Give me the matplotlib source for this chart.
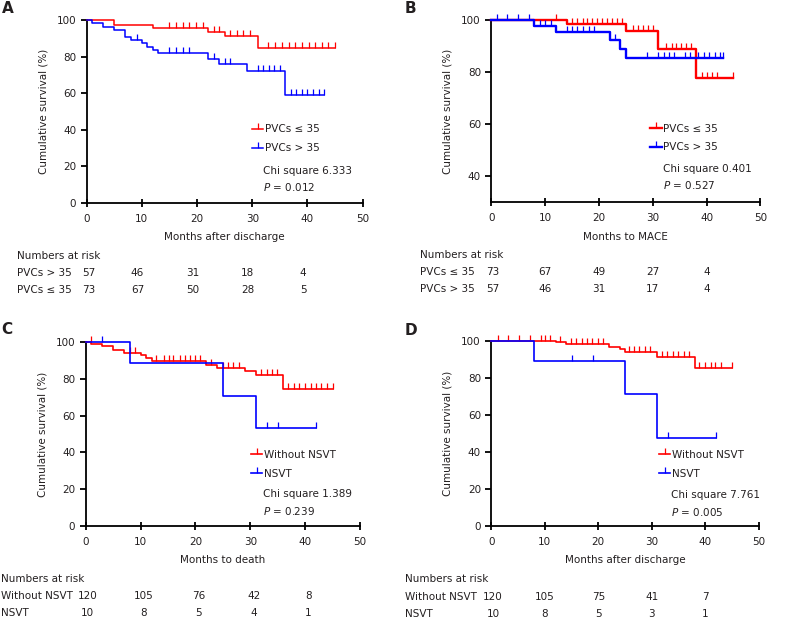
import numpy as np
import matplotlib.pyplot as plt
from matplotlib.lines import Line2D

plt.rcParams['font.family'] = 'DejaVu Sans'
plt.rcParams['mathtext.fontset'] = 'dejavusans'

RED = '#ff0000'
BLUE = '#0000ff'
TXT = '#231f20'
FS = 7.5

# ---- panel A: months after discharge, PVC burden ----
a_red_t = [0, 5, 12, 22, 25, 31, 45]
a_red_s = [100, 97.4, 95.8, 93.8, 91.6, 84.7, 84.7]
a_red_c = [15, 16.2, 17.4, 18.6, 19.8, 21, 23, 24, 26, 27.2, 28.4, 29.6, 32.9, 34.1, 35.3,
           36.6, 37.8, 39, 40.2, 41.4, 42.6, 43.8, 45]
a_blue_t = [0, 1, 3, 5, 7, 8, 10, 11, 12, 13, 22, 24, 29, 36, 43]
a_blue_s = [100, 98.4, 96.5, 94.5, 91.1, 89.2, 87.4, 85.4, 83.6, 81.9, 79.0, 76.1, 72.5, 59.3, 59.3]
a_blue_c = [9.1, 15, 16.2, 17.4, 18.6, 23, 25, 26, 31, 32, 33, 34, 35, 37, 38, 39, 40, 41, 42, 43]
a_risk_labels = ['PVCs > 35', 'PVCs \u2264 35']
a_risk = [[57, 46, 31, 18, 4], [73, 67, 50, 28, 5]]

# ---- panel B: months to MACE ----
b_red_t = [0, 14, 25, 31, 38, 45]
b_red_s = [100, 98.6, 95.8, 88.8, 77.7, 77.7]
b_red_c = [12, 15, 16, 17, 17.8, 18.7, 19.6, 20.6, 21.5, 22.4, 23.4, 24.3, 26.3, 27.2, 28.1, 29.1,
           30, 32.5, 33.5, 34.4, 35.3, 36.2, 37.2, 39.2, 40.1, 41, 41.9, 45]
b_blue_t = [0, 8, 12, 22, 24, 25, 43]
b_blue_s = [100, 97.8, 95.6, 92.6, 89, 85.4, 85.4]
b_blue_c = [1, 3, 5, 7, 9, 10, 11, 14, 15, 16, 17, 18.1, 19, 23, 29, 31, 32, 33, 34, 36, 37,
            38.4, 39.5, 40.4, 41.5, 42.5, 43]
b_risk_labels = ['PVCs \u2264 35', 'PVCs > 35']
b_risk = [[73, 67, 49, 27, 4], [57, 46, 31, 17, 4]]

# ---- panel C: months to death, NSVT ----
c_red_t = [0, 1, 3, 5, 7, 10, 11, 12, 22, 24, 29, 31, 36, 45]
c_red_s = [100, 99.1, 98.2, 95.8, 94, 92.9, 91.3, 90, 87.6, 85.8, 84.2, 82.2, 74.5, 74.5]
c_red_c = [0.9, 8, 9, 12.9, 14.2, 15.1, 16, 17.2, 18.1, 19, 19.9, 20.8, 22.8, 25, 26, 26.9, 28,
           32, 33, 33.9, 34.9, 36.9, 38, 38.9, 40, 41, 41.9, 42.9, 43.9, 45]
c_blue_t = [0, 8, 25, 31, 42]
c_blue_s = [100, 88.9, 70.9, 53.3, 53.3]
c_blue_c = [3, 33, 35, 42]
c_risk_labels = ['Without NSVT', 'NSVT']
c_risk = [[120, 105, 76, 42, 8], [10, 8, 5, 4, 1]]

# ---- panel D: months after discharge, NSVT ----
d_red_t = [0, 12, 14, 22, 24, 25, 31, 38, 45]
d_red_s = [100, 99.1, 98.2, 96.8, 95.3, 93.7, 91.4, 85, 85]
d_red_c = [1.2, 3.1, 5.1, 7.2, 9.2, 10.1, 11, 12.9, 14.9, 15.9, 17, 17.9, 18.8, 20, 20.9, 25.7,
           26.6, 27.7, 28.7, 29.7, 31.9, 32.9, 34, 34.9, 36, 36.9, 38.9, 39.9, 41, 41.9, 43, 45]
d_blue_t = [0, 8, 25, 31, 42]
d_blue_s = [100, 88.8, 71.2, 47.4, 47.4]
d_blue_c = [15, 19, 33, 42]
d_risk_labels = ['Without NSVT', 'NSVT']
d_risk = [[120, 105, 75, 41, 7], [10, 8, 5, 3, 1]]

risk_times = [0, 10, 20, 30, 40]


def step_value(t, s, x):
    idx = np.searchsorted(np.array(t), np.array(x), side='right') - 1
    return np.array(s)[idx]


def km(ax, t, s, c, color, lw):
    ax.step(t, s, where='post', color=color, lw=lw, clip_on=False, zorder=3)
    ax.plot(c, step_value(t, s, c), ls='none', marker=2, ms=4, mew=0.9,
            color=color, clip_on=False, zorder=3)


fig = plt.figure(figsize=(7.85, 6.21), dpi=100)

panels = [
    dict(pos=[0.1104, 0.6731, 0.3516, 0.2942], letter='A', lpos=(0.002, 0.987), ylim=(0, 100),
         yticks=[0, 20, 40, 60, 80, 100],
         xlabel='Months after discharge', red=(a_red_t, a_red_s, a_red_c), blue=(a_blue_t, a_blue_s, a_blue_c),
         labels=['PVCs \u2264 35', 'PVCs > 35'], chi='Chi square 6.333', p='0.012', lw=1.1,
         leg=(0.599, 0.43), chix=0.639, chiy=0.175,
         risk_labels=a_risk_labels, risk=a_risk, rx=-0.254, dx=-0.8),
    dict(pos=[0.6259, 0.6742, 0.3427, 0.2931], letter='B', lpos=(0.516, 0.987), ylim=(30, 100),
         yticks=[40, 60, 80, 100],
         xlabel='Months to MACE', red=(b_red_t, b_red_s, b_red_c), blue=(b_blue_t, b_blue_s, b_blue_c),
         labels=['PVCs \u2264 35', 'PVCs > 35'], chi='Chi square 0.401', p='0.527', lw=1.7,
         leg=(0.590, 0.433), chix=0.637, chiy=0.183,
         risk_labels=b_risk_labels, risk=b_risk, rx=-0.265, dx=0),
    dict(pos=[0.1092, 0.1535, 0.3494, 0.2953], letter='C', lpos=(0.002, 0.469), ylim=(0, 100),
         yticks=[0, 20, 40, 60, 80, 100],
         xlabel='Months to death', red=(c_red_t, c_red_s, c_red_c), blue=(c_blue_t, c_blue_s, c_blue_c),
         labels=['Without NSVT', 'NSVT'], chi='Chi square 1.389', p='0.239', lw=1.2,
         leg=(0.602, 0.414), chix=0.647, chiy=0.171,
         risk_labels=c_risk_labels, risk=c_risk, rx=-0.309, dx=0.6),
    dict(pos=[0.6259, 0.1535, 0.3406, 0.2979], letter='D', lpos=(0.516, 0.467), ylim=(0, 100),
         yticks=[0, 20, 40, 60, 80, 100],
         xlabel='Months after discharge', red=(d_red_t, d_red_s, d_red_c), blue=(d_blue_t, d_blue_s, d_blue_c),
         labels=['Without NSVT', 'NSVT'], chi='Chi square 7.761', p='0.005', lw=1.2,
         leg=(0.627, 0.41), chix=0.673, chiy=0.166,
         risk_labels=d_risk_labels, risk=d_risk, rx=-0.324, dx=0),
]

for pn in panels:
    ax = fig.add_axes(pn['pos'])
    km(ax, *pn['red'], RED, pn['lw'])
    km(ax, *pn['blue'], BLUE, pn['lw'])
    ax.set_xlim(0, 50)
    ax.set_ylim(*pn['ylim'])
    ax.set_xticks([0, 10, 20, 30, 40, 50])
    ax.set_yticks(pn['yticks'])
    for sp in ['top', 'right']:
        ax.spines[sp].set_visible(False)
    for sp in ['left', 'bottom']:
        ax.spines[sp].set_linewidth(1.3)
        ax.spines[sp].set_color('black')
    ax.tick_params(axis='x', direction='inout', length=6, width=1.3, pad=5, labelsize=FS, labelcolor=TXT)
    ax.tick_params(axis='y', direction='out', length=4.5, width=1.3, pad=3, labelsize=FS, labelcolor=TXT)
    ax.set_xlabel(pn['xlabel'], fontsize=FS, color=TXT, labelpad=6)
    ax.set_ylabel('Cumulative survival (%)', fontsize=FS, color=TXT, labelpad=6)

    handles = [Line2D([], [], color=RED, lw=pn['lw'], marker=2, ms=4, mew=0.9),
               Line2D([], [], color=BLUE, lw=pn['lw'], marker=2, ms=4, mew=0.9)]
    ax.legend(handles, pn['labels'], loc='upper left', bbox_to_anchor=pn['leg'], frameon=False,
              fontsize=FS, handlelength=1.1, handletextpad=0.15, borderpad=0, borderaxespad=0,
              labelspacing=0.85, labelcolor=TXT)
    ax.text(pn['chix'], pn['chiy'], pn['chi'], transform=ax.transAxes, fontsize=FS, color=TXT, va='center')
    ax.text(pn['chix'], pn['chiy'] - 0.09, '$P$ = ' + pn['p'], transform=ax.transAxes, fontsize=FS,
            color=TXT, va='center')

    # numbers at risk table
    tr = ax.get_xaxis_transform()
    ax.text(pn['rx'], -0.29, 'Numbers at risk', transform=ax.transAxes, fontsize=FS, color=TXT,
            va='center', clip_on=False)
    for row, (lab, vals) in enumerate(zip(pn['risk_labels'], pn['risk'])):
        yy = -0.383 - row * 0.092
        ax.text(pn['rx'], yy, lab, transform=ax.transAxes, fontsize=FS, color=TXT, va='center')
        for k, (t, v) in enumerate(zip(risk_times, vals)):
            xx = t + (pn['dx'] if k > 0 else 0.3)
            ax.text(xx, yy, str(v), transform=tr, fontsize=FS, color=TXT, ha='center', va='center')

    fig.text(pn['lpos'][0], pn['lpos'][1], pn['letter'], fontsize=11, fontweight='bold',
             color=TXT, va='center', ha='left')

fig.savefig('out.png', dpi=100)
